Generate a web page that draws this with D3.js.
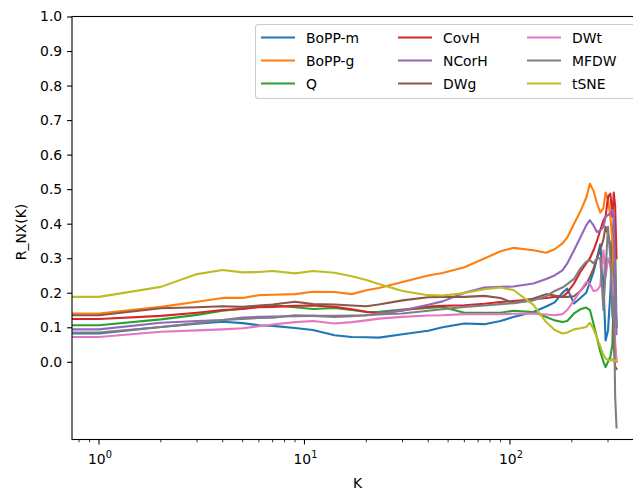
<!DOCTYPE html>
<html>
<head>
<meta charset="utf-8">
<script src="https://cdn.jsdelivr.net/npm/d3@7"></script>
<style>
  body { margin: 0; background: #fff; }
  svg { display: block; overflow: hidden; }
  text { font-family: "DejaVu Sans", sans-serif; fill: #000; }
</style>
</head>
<body>
<div id="chart"></div>
<script>
// neighbourhood sizes K (x values)
var ks = [1, 2, 3, 4, 5, 6, 7, 9, 11, 14, 17, 20, 23, 30, 40, 47, 60, 75, 90, 104,
  130, 150, 165, 180, 190, 205, 220, 235, 245, 255, 265, 275, 285, 292, 300, 308, 315, 320, 325, 330];

// R_NX(K) for every method, same order as ks
var boppM = [0.082, 0.101, 0.110, 0.116, 0.112, 0.106, 0.104, 0.098, 0.092, 0.077, 0.072, 0.071, 0.070, 0.080, 0.090, 0.100, 0.111, 0.109, 0.118, 0.130,
  0.144, 0.160, 0.172, 0.200, 0.212, 0.169, 0.185, 0.200, 0.230, 0.260, 0.300, 0.340, 0.227, 0.062, 0.091, 0.200, 0.350, 0.420, 0.200, 0.100];
var boppG = [0.140, 0.159, 0.174, 0.185, 0.185, 0.193, 0.194, 0.196, 0.203, 0.202, 0.196, 0.207, 0.214, 0.231, 0.250, 0.257, 0.274, 0.299, 0.320, 0.330,
  0.323, 0.316, 0.326, 0.343, 0.360, 0.400, 0.435, 0.475, 0.516, 0.495, 0.460, 0.432, 0.445, 0.490, 0.470, 0.420, 0.350, 0.200, 0.050, 0.000];
var q = [0.106, 0.123, 0.136, 0.148, 0.154, 0.160, 0.164, 0.158, 0.153, 0.156, 0.150, 0.144, 0.145, 0.151, 0.156, 0.159, 0.142, 0.142, 0.142, 0.148,
  0.144, 0.130, 0.120, 0.115, 0.118, 0.140, 0.152, 0.157, 0.150, 0.110, 0.070, 0.030, 0.000, -0.015, 0.000, 0.014, 0.050, 0.200, 0.350, 0.100];
var covH = [0.124, 0.133, 0.142, 0.150, 0.153, 0.158, 0.159, 0.162, 0.163, 0.159, 0.152, 0.145, 0.140, 0.149, 0.160, 0.162, 0.164, 0.168, 0.173, 0.176,
  0.181, 0.185, 0.188, 0.188, 0.200, 0.227, 0.260, 0.285, 0.300, 0.323, 0.350, 0.381, 0.410, 0.420, 0.478, 0.487, 0.420, 0.490, 0.450, 0.300];
var nCorH = [0.094, 0.113, 0.118, 0.121, 0.128, 0.130, 0.131, 0.132, 0.133, 0.133, 0.134, 0.135, 0.140, 0.149, 0.165, 0.175, 0.200, 0.215, 0.217, 0.218,
  0.227, 0.240, 0.250, 0.265, 0.285, 0.323, 0.360, 0.395, 0.410, 0.395, 0.376, 0.380, 0.390, 0.420, 0.425, 0.430, 0.440, 0.420, 0.250, 0.080];
var dwg = [0.135, 0.155, 0.158, 0.161, 0.159, 0.163, 0.166, 0.174, 0.167, 0.166, 0.163, 0.161, 0.166, 0.178, 0.187, 0.188, 0.188, 0.191, 0.185, 0.170,
  0.183, 0.196, 0.192, 0.188, 0.188, 0.190, 0.205, 0.225, 0.246, 0.270, 0.300, 0.323, 0.355, 0.391, 0.370, 0.340, 0.200, 0.050, -0.015, -0.020];
var dwt = [0.072, 0.087, 0.091, 0.094, 0.097, 0.103, 0.108, 0.115, 0.118, 0.111, 0.115, 0.120, 0.125, 0.130, 0.134, 0.135, 0.138, 0.138, 0.138, 0.139,
  0.140, 0.137, 0.135, 0.138, 0.150, 0.178, 0.205, 0.231, 0.225, 0.205, 0.207, 0.220, 0.323, 0.246, 0.300, 0.280, 0.240, 0.150, 0.050, 0.000];
var mfdw = [0.085, 0.101, 0.112, 0.121, 0.124, 0.127, 0.128, 0.135, 0.133, 0.130, 0.132, 0.135, 0.137, 0.140, 0.148, 0.152, 0.159, 0.163, 0.167, 0.170,
  0.178, 0.190, 0.205, 0.215, 0.225, 0.240, 0.270, 0.290, 0.294, 0.285, 0.300, 0.300, 0.150, 0.265, 0.391, 0.300, 0.130, 0.190, -0.100, -0.190];
var tsne = [0.188, 0.217, 0.254, 0.266, 0.259, 0.260, 0.263, 0.256, 0.263, 0.258, 0.248, 0.237, 0.225, 0.205, 0.193, 0.192, 0.199, 0.210, 0.215, 0.208,
  0.165, 0.115, 0.092, 0.082, 0.085, 0.094, 0.097, 0.101, 0.113, 0.095, 0.070, 0.045, 0.020, 0.010, 0.005, 0.004, 0.008, 0.000, 0.004, 0.003];

var names = ["BoPP-m", "BoPP-g", "Q", "CovH", "NCorH", "DWg", "DWt", "MFDW", "tSNE"];
var seriesValues = [boppM, boppG, q, covH, nCorH, dwg, dwt, mfdw, tsne];
var colors = ["#1f77b4", "#ff7f0e", "#2ca02c", "#d62728", "#9467bd", "#8c564b", "#e377c2", "#7f7f7f", "#bcbd22"];

var yTicks = [0, 0.1, 0.2, 0.3, 0.4, 0.5, 0.6, 0.7, 0.8, 0.9, 1.0];
var xTicks = [1, 10, 100];
var xTickLabels = ["0", "1", "2"];   // exponents of the 10^n labels
var legendOrder = [[0, 1, 2], [3, 4, 5], [6, 7, 8]];  // columns of the legend

var width = 633, height = 492;
// axes box, it runs past the right edge of the figure
var plotL = 72, plotR = 643, plotT = 16.5, plotB = 439.5;

var svg = d3.select("#chart")
  .append("svg")
    .attr("width", width)
    .attr("height", height)

var x = d3.scaleLog()
    .domain([0.739, 444])
    .range([plotL, plotR])

var y = d3.scaleLinear()
    .domain([-0.225, 1.0])
    .range([plotB, plotT])

svg.append("clipPath")
    .attr("id", "plotclip")
  .append("rect")
    .attr("x", plotL)
    .attr("y", plotT)
    .attr("width", plotR - plotL)
    .attr("height", plotB - plotT)

// the lines, first value held flat back to the left edge like the original plot
var line = d3.line()
    .x(function(d) { return x(d[0]); })
    .y(function(d) { return y(d[1]); })

svg.append("g")
    .attr("clip-path", "url(#plotclip)")
  .selectAll("path")
  .data(seriesValues)
  .enter()
  .append("path")
    .attr("d", function(vals) {
      var pts = [[x.domain()[0], vals[0]]].concat(ks.map(function(k, i) { return [k, vals[i]]; }));
      return line(pts);
    })
    .style("fill", "none")
    .style("stroke", function(d, i) { return colors[i]; })
    .style("stroke-width", 2.1)
    .style("stroke-linejoin", "round")
    .style("stroke-linecap", "square")

// y axis
var yAxis = svg.append("g")
    .attr("transform", "translate(" + plotL + ",0)")
    .call(d3.axisLeft(y).tickValues(yTicks).tickFormat(d3.format(".1f")).tickSize(4.9).tickPadding(4.9))
yAxis.select(".domain").remove()
yAxis.selectAll("line").attr("stroke", "#000").attr("stroke-width", 1.1)
yAxis.selectAll("text").style("font-size", "13.9px").style("font-family", "DejaVu Sans")

// x axis: minor ticks first, then the major ones with 10^n labels
var minor = [];
[0.1, 1, 10, 100].forEach(function(dec) {
  for (var m = 2; m <= 9; m++) {
    var v = dec * m;
    if (v > x.domain()[0] && v < x.domain()[1]) minor.push(v);
  }
});

var xAxis = svg.append("g")
    .attr("transform", "translate(0," + plotB + ")")

xAxis.selectAll(".minor")
  .data(minor)
  .enter()
  .append("line")
    .attr("x1", function(d) { return x(d); })
    .attr("x2", function(d) { return x(d); })
    .attr("y2", 2.8)
    .attr("stroke", "#000")
    .attr("stroke-width", 0.8)

xAxis.selectAll(".major")
  .data(xTicks)
  .enter()
  .append("line")
    .attr("x1", function(d) { return x(d); })
    .attr("x2", function(d) { return x(d); })
    .attr("y2", 4.9)
    .attr("stroke", "#000")
    .attr("stroke-width", 1.1)

var xl = xAxis.selectAll(".lbl")
  .data(xTicks)
  .enter()
  .append("text")
    .attr("x", function(d) { return x(d) + 1; })
    .attr("y", 24)
    .attr("text-anchor", "middle")
    .style("font-size", "13.9px")
xl.append("tspan").text("10")
xl.append("tspan")
    .attr("dy", -6)
    .style("font-size", "9.8px")
    .text(function(d, i) { return xTickLabels[i]; })

// spines
svg.append("rect")
    .attr("x", plotL)
    .attr("y", plotT)
    .attr("width", plotR - plotL)
    .attr("height", plotB - plotT)
    .style("fill", "none")
    .style("stroke", "#000")
    .style("stroke-width", 1.1)

// axis titles
svg.append("text")
    .attr("x", (plotL + plotR) / 2)
    .attr("y", 488)
    .attr("text-anchor", "middle")
    .style("font-size", "13.9px")
    .text("K")

svg.append("text")
    .attr("transform", "translate(26," + ((plotT + plotB) / 2 + 4) + ") rotate(-90)")
    .attr("text-anchor", "middle")
    .style("font-size", "13.9px")
    .text("R_NX(K)")

// legend
var legend = svg.append("g")
legend.append("rect")
    .attr("x", 255.5)
    .attr("y", 24.5)
    .attr("width", 381)
    .attr("height", 74)
    .attr("rx", 3)
    .style("fill", "#fff")
    .style("fill-opacity", 0.8)
    .style("stroke", "#cccccc")
    .style("stroke-width", 1.1)

var colX = [261, 398, 527];
legendOrder.forEach(function(col, c) {
  col.forEach(function(idx, r) {
    var ly = 37.5 + r * 23;
    legend.append("line")
        .attr("x1", colX[c])
        .attr("x2", colX[c] + 34)
        .attr("y1", ly)
        .attr("y2", ly)
        .style("stroke", colors[idx])
        .style("stroke-width", 2.1)
    legend.append("text")
        .attr("x", colX[c] + 45)
        .attr("y", ly + 5)
        .style("font-size", "13.9px")
        .text(names[idx])
  });
});
</script>
</body>
</html>
